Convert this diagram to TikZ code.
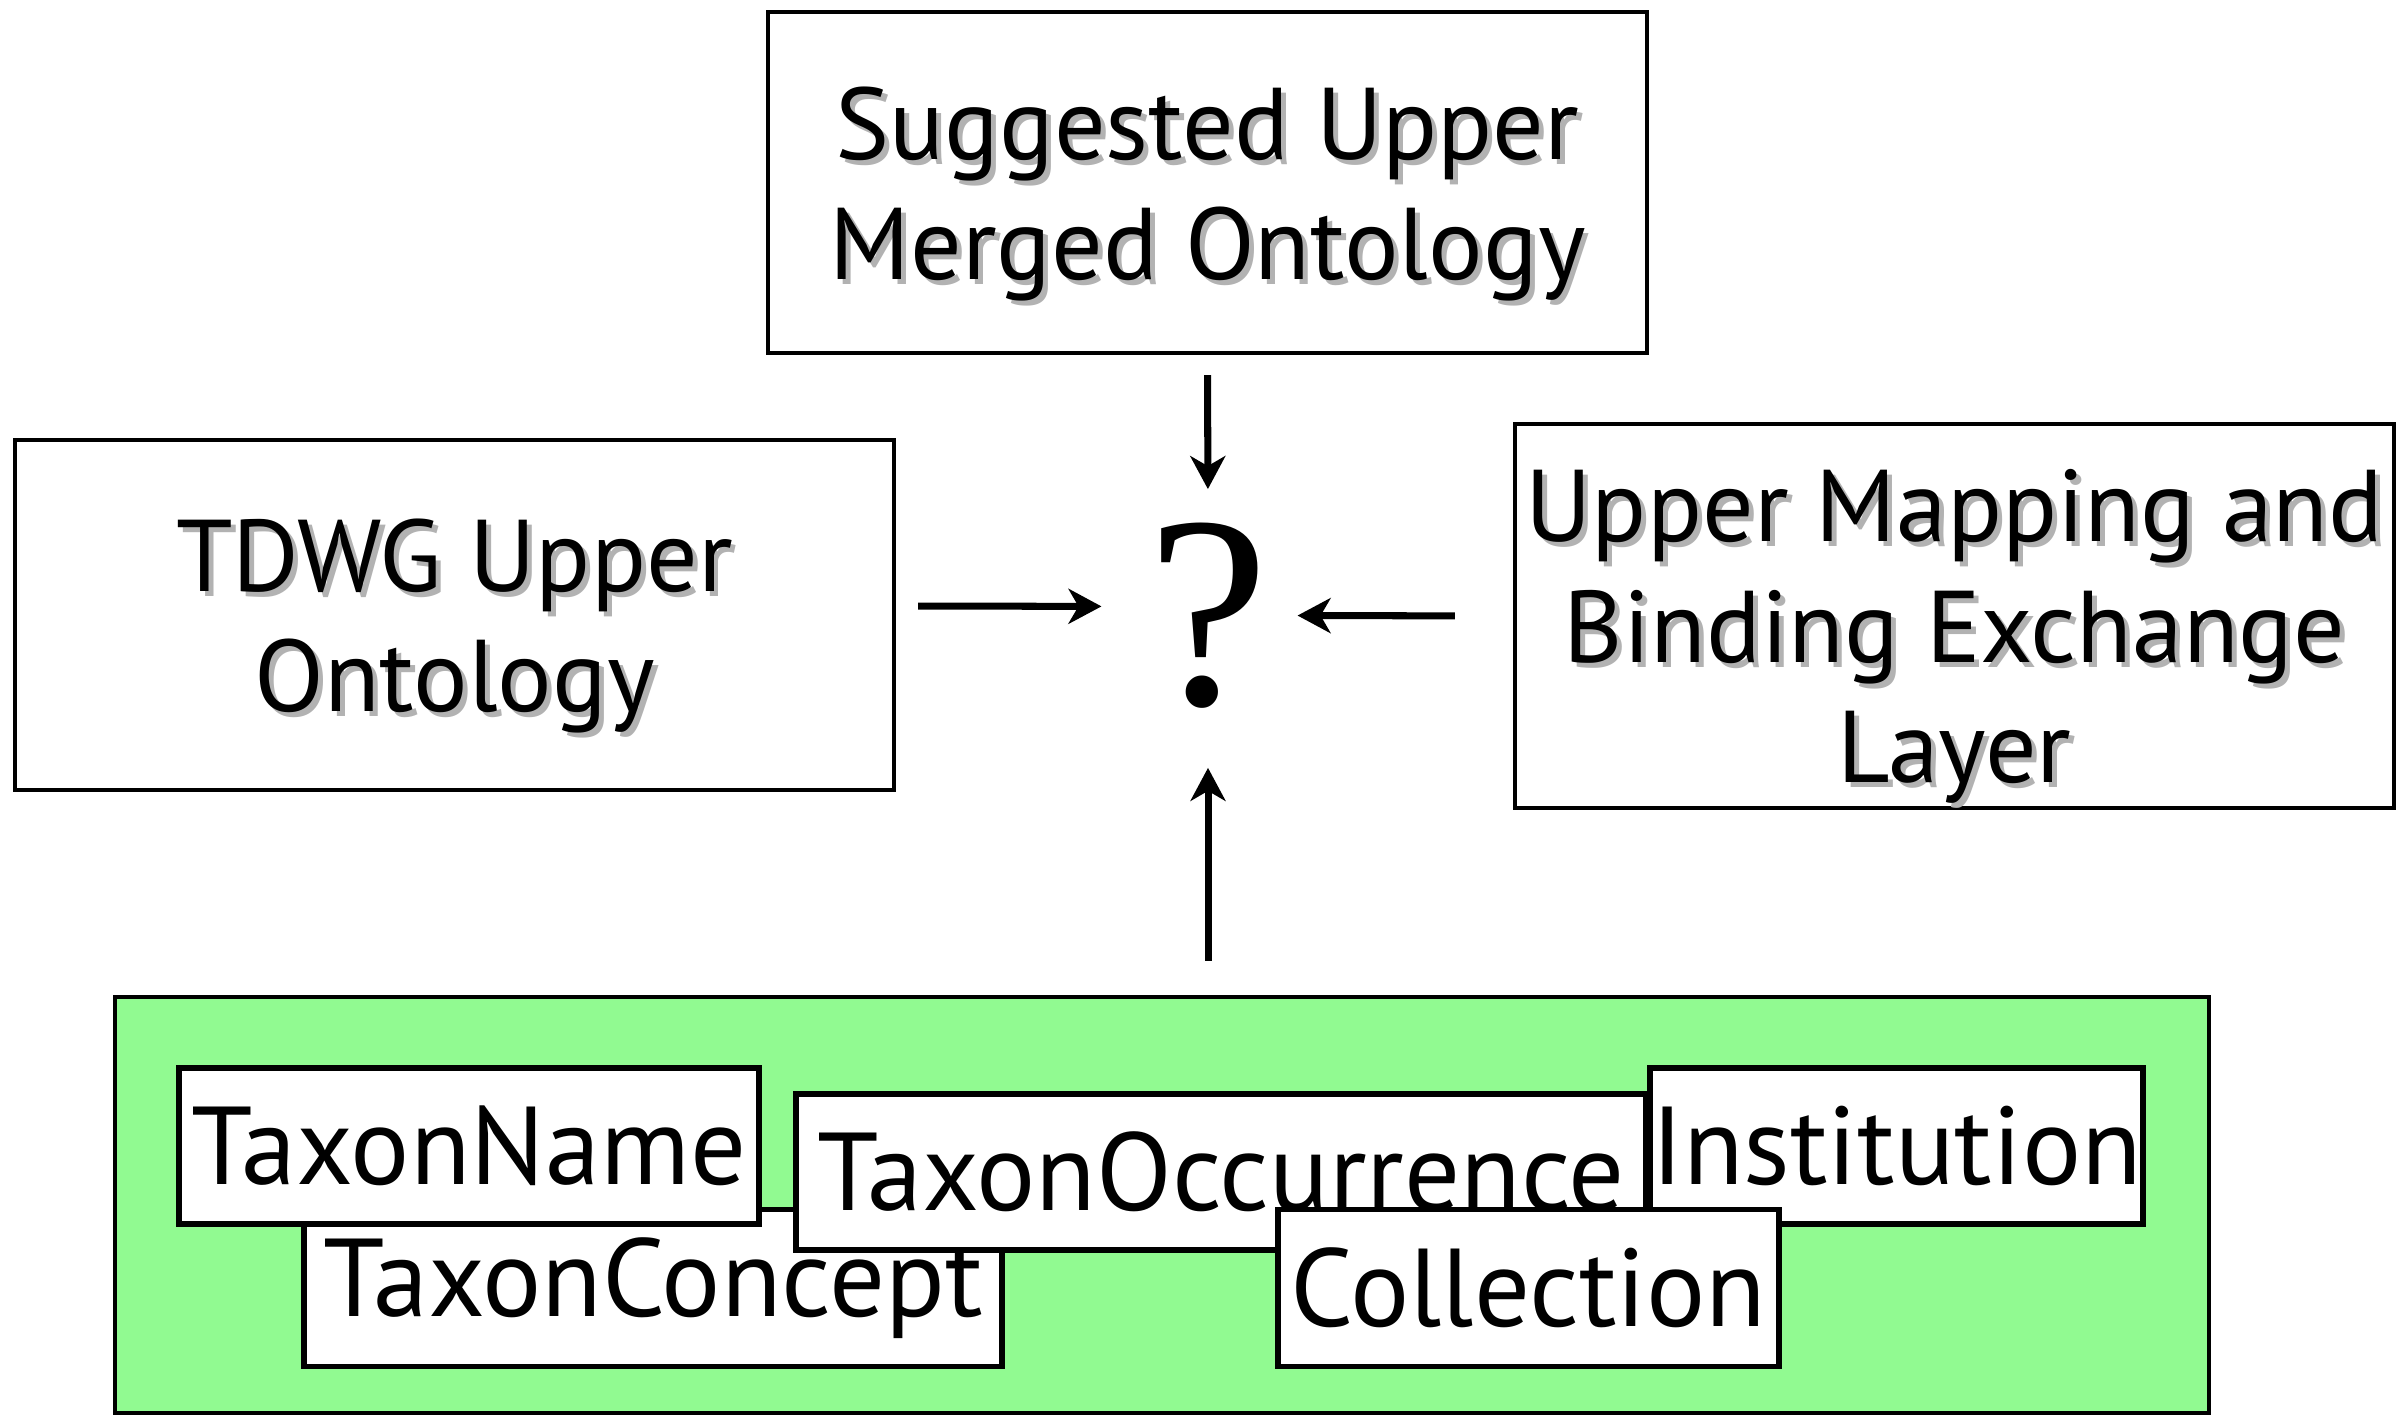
\documentclass[tikz,border=0pt]{standalone}
\usepackage{fontspec}
\setmainfont{PT Sans}
\newfontfamily\qfont{Liberation Serif}
\usetikzlibrary{arrows.meta}
\definecolor{leafgreen}{RGB}{145,250,145}
\newcommand{\shtxt}[1]{\makebox[0pt][l]{\hspace{0.05cm}\raisebox{-0.05cm}{\textcolor{black!30}{#1}}}#1}
\newcommand{\lift}[1]{\rule{0pt}{#1}}
\tikzset{
  topbox/.style={draw, line width=1.2pt, minimum width=8.79cm, align=center,
    font=\fontsize{29}{34.2}\selectfont, inner sep=0pt},
  classbox/.style={draw, fill=white, line width=1.5pt, inner sep=0pt,
    font=\fontsize{31.5}{38}\selectfont, minimum height=1.56cm},
  flow/.style={-{Stealth[length=0.33cm,width=0.35cm,inset=0.1cm]}, line width=2pt}
}
\begin{document}
\begin{tikzpicture}
  \useasboundingbox (0,0) rectangle (24.05,14.15);

  % the three upper layers
  \node[topbox, minimum height=3.41cm] (upper) at (12.075,12.325)
    {\lift{1.0cm}\shtxt{Suggested Upper}\\\shtxt{Merged Ontology}};
  \node[topbox, minimum height=3.50cm] (tdwg) at (4.545,8.00)
    {\lift{1.0cm}\shtxt{TDWG Upper}\\\shtxt{Ontology}};
  \node[topbox, minimum height=3.83cm] (mapping) at (19.545,7.99)
    {\lift{1.18cm}\shtxt{Upper Mapping and}\\\shtxt{Binding Exchange}\\\shtxt{Layer}};

  \node[inner sep=0pt, font=\qfont\fontsize{78}{80}\selectfont] (q) at (12.08,7.995) {?};

  % the classes
  \node[draw, line width=1.2pt, fill=leafgreen, minimum width=20.94cm,
    minimum height=4.16cm] (pool) at (11.62,2.10) {};
  \node[classbox, minimum width=6.98cm, minimum height=1.57cm] (tconcept) at (6.53,1.27) {TaxonConcept};
  \node[classbox, minimum width=5.80cm] (tname) at (4.69,2.69) {TaxonName};
  \node[classbox, minimum width=8.50cm] (toccur) at (12.21,2.43) {TaxonOccurrence};
  \node[classbox, minimum width=4.93cm] (inst) at (18.965,2.69) {Institution};
  \node[classbox, minimum width=5.01cm, minimum height=1.57cm] (coll) at (15.285,1.27) {Collection};

  % arrows into the question
  \draw[flow, shorten <=0.2cm, shorten >=0.33cm] (upper.south) -- (q.north);
  \draw[flow, shorten <=0.22cm, shorten >=0.45cm] ([yshift=0.09cm]tdwg.east) -- ([yshift=0.09cm]q.west);
  \draw[flow, shorten <=0.58cm, shorten >=0.28cm] (mapping.west) -- (q.east);
  \draw[flow, shorten <=0.34cm, shorten >=0.59cm] (pool.north -| q) -- (q.south);
\end{tikzpicture}
\end{document}
